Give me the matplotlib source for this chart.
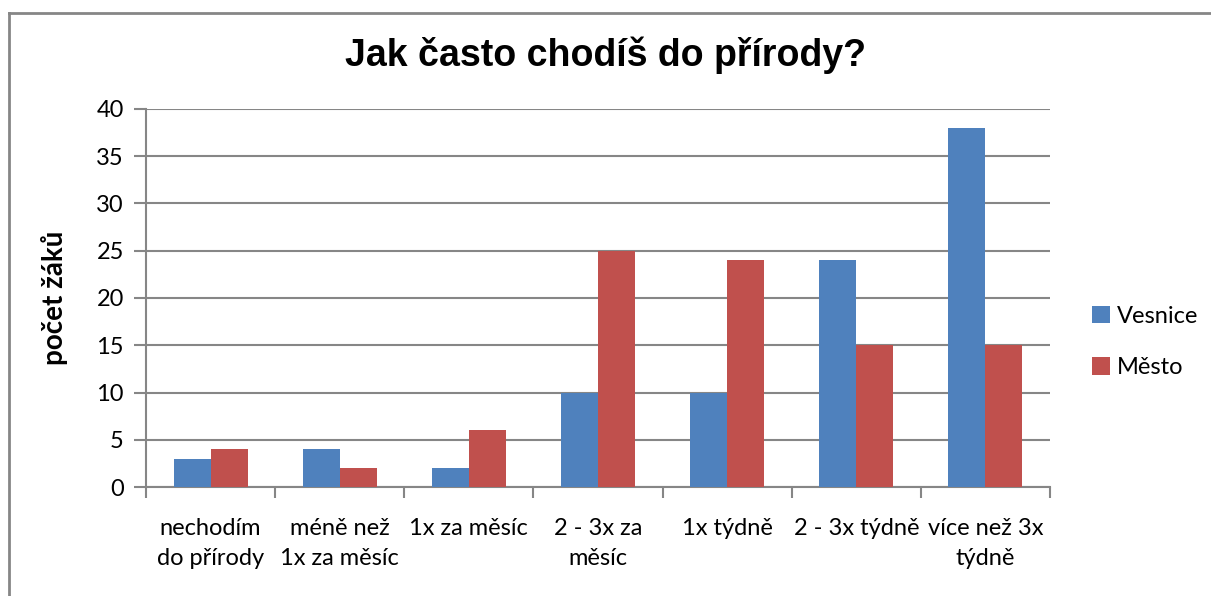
import matplotlib.pyplot as plt
import numpy as np
from matplotlib.lines import Line2D

# --- Data ---
categories = ['nechodím\ndo přírody', 'méně než\n1x za měsíc', '1x za měsíc',
              '2 - 3x za\nměsíc', '1x týdně', '2 - 3x týdně', 'více než 3x\ntýdně']
vesnice = [3, 4, 2, 10, 10, 24, 38]
mesto = [4, 2, 6, 25, 24, 15, 15]
series_names = ['Vesnice', 'Město']
yticks = [0, 5, 10, 15, 20, 25, 30, 35, 40]

BLUE = '#4F81BD'
RED = '#C0504D'
GRID = '#868686'
FONT = 'Lato'

# --- Plot ---
fig = plt.figure(figsize=(12.11, 5.96), dpi=100)
ax = fig.add_axes([146/1211, 1 - 487/596, 904/1211, 378/596])

x = np.arange(len(categories))
w = 0.287
ax.bar(x - w/2, vesnice, w, color=BLUE, label=series_names[0], zorder=3)
ax.bar(x + w/2, mesto, w, color=RED, label=series_names[1], zorder=3)

ax.set_xlim(-0.5, len(categories) - 0.5)
ax.set_ylim(0, 40)
ax.set_yticks(yticks)
ax.set_yticklabels([str(t) for t in yticks], fontname=FONT, fontsize=17)

# category labels between boundary ticks
ax.set_xticks(np.arange(len(categories) + 1) - 0.5)
ax.set_xticklabels([])
ax.set_xticks(x, minor=True)
ax.set_xticklabels(categories, minor=True, fontname=FONT, fontsize=17, linespacing=1.55)
ax.tick_params(axis='x', which='minor', length=0, pad=22)
ax.tick_params(axis='x', which='major', length=8, color=GRID, width=1.5)
ax.tick_params(axis='y', length=9, color=GRID, width=1.5, pad=7)

ax.grid(axis='y', color=GRID, linewidth=1.5, zorder=0)
for s in ['top', 'right']:
    ax.spines[s].set_visible(False)
for s in ['left', 'bottom']:
    ax.spines[s].set_color(GRID)
    ax.spines[s].set_linewidth(1.5)

ax.set_ylabel('počet žáků', fontname=FONT, fontweight='bold', fontsize=20, labelpad=20)

fig.suptitle('Jak často chodíš do přírody?', fontname='Liberation Sans', fontweight='bold',
             fontsize=27, y=1 - 55/596, va='center')

ax.legend(loc='center left', bbox_to_anchor=(1080/1211, 1 - 342/596),
          bbox_transform=fig.transFigure, frameon=False, handlelength=0.75,
          handleheight=0.75, handletextpad=0.3, labelspacing=1.3,
          borderpad=0, prop={'family': FONT, 'size': 17})

# outer chart frame (top and left edges visible)
fig.add_artist(Line2D([9/1211, 1], [1 - 13/596, 1 - 13/596], color=GRID, linewidth=2,
                      transform=fig.transFigure))
fig.add_artist(Line2D([9/1211, 9/1211], [0, 1 - 13/596], color=GRID, linewidth=2,
                      transform=fig.transFigure))

plt.savefig('out.png', dpi=100)
